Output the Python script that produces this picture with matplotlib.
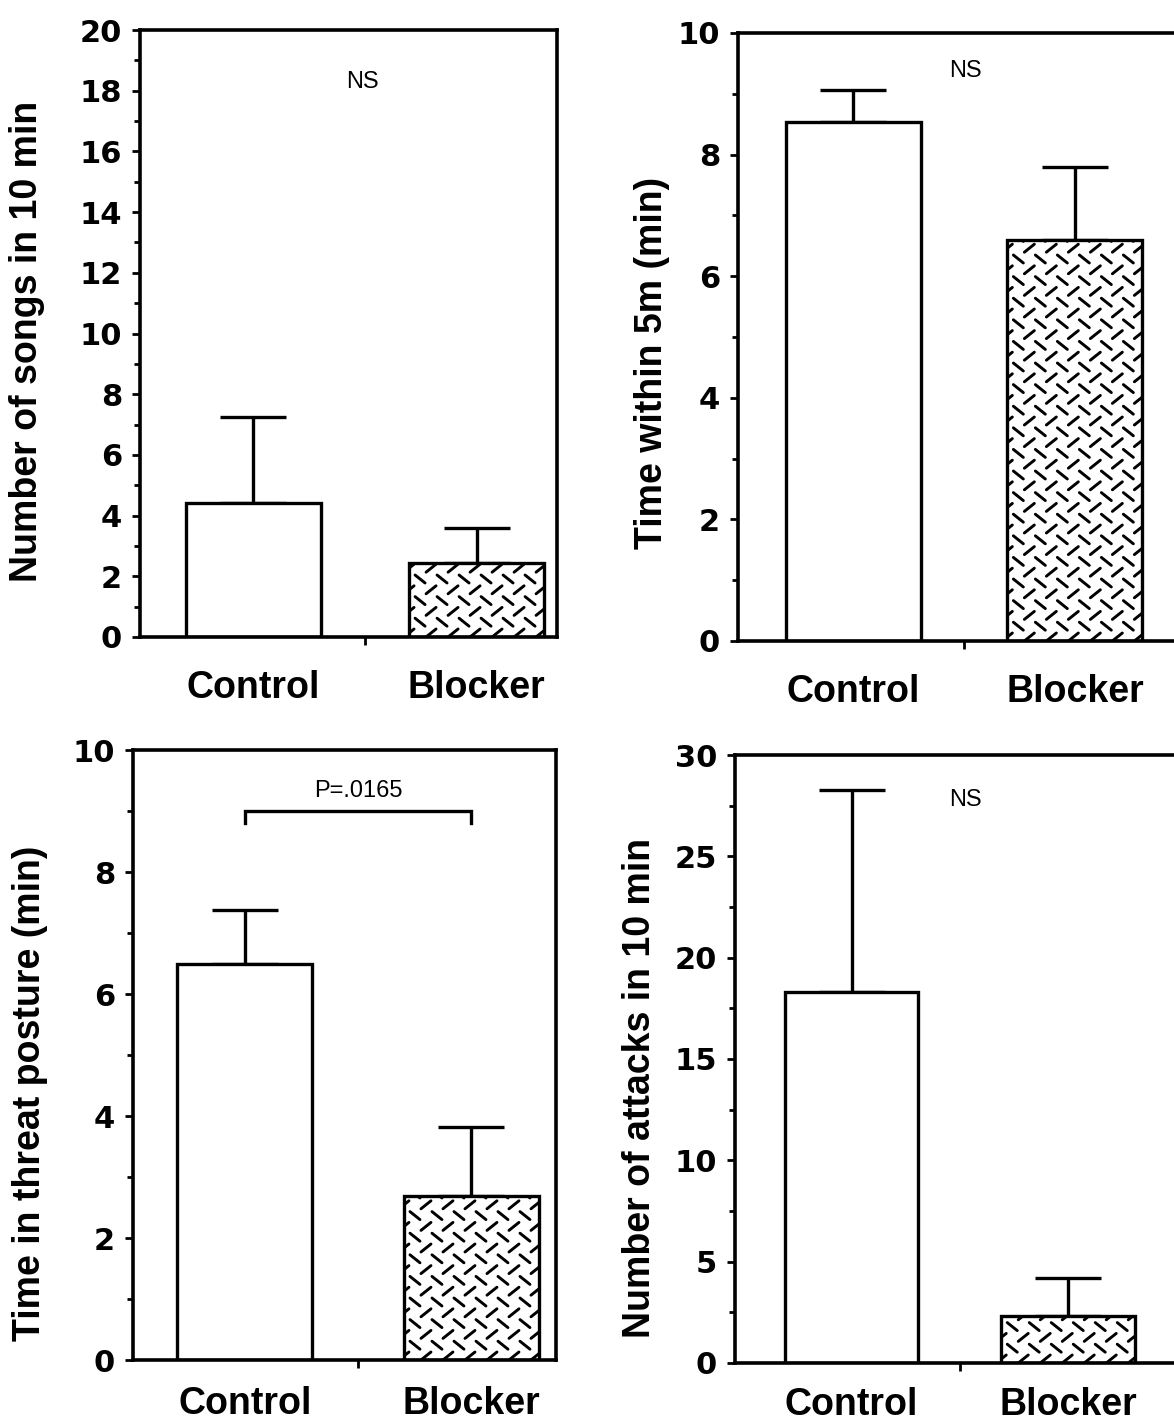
import matplotlib
matplotlib.use("Agg")
import matplotlib.pyplot as plt
from matplotlib.collections import LineCollection
from matplotlib.transforms import IdentityTransform
from matplotlib.ticker import MultipleLocator

# ---- data -------------------------------------------------------------
groups = ["Control", "Blocker"]

songs_mean = [4.4, 2.45]
songs_err = [2.85, 1.15]

near_mean = [8.54, 6.6]
near_err = [0.52, 1.2]

threat_mean = [6.49, 2.69]
threat_err = [0.89, 1.13]

attack_mean = [18.3, 2.32]
attack_err = [9.97, 1.87]

# ---- figure -----------------------------------------------------------
W, H = 1174, 1428
fig = plt.figure(figsize=(W / 100, H / 100), dpi=100)
plt.rcParams["font.family"] = ["DejaVu Sans"]

LABEL_FONT = "Liberation Sans"
LW = 2.4


def px_axes(left, right, top, bottom):
    return fig.add_axes([left / W, 1 - bottom / H, (right - left) / W, (bottom - top) / H])


def diamond_plate(ax, bar, dx=22.0, dy=10.8, hx=5.0, hy=4.0):
    """Alternating rows of short '\\' and '/' dashes, clipped to the bar."""
    bb = bar.get_window_extent()
    segs = []
    row = 0
    y = bb.y0 + 4
    while y < bb.y1 + dy:
        shift = 0.0 if row % 2 == 0 else dx / 2
        x = bb.x0 - dx + shift
        while x < bb.x1 + dx:
            if row % 2 == 0:
                segs.append([(x - hx, y - hy), (x + hx, y + hy)])
            else:
                segs.append([(x - hx, y + hy), (x + hx, y - hy)])
            x += dx
        y += dy
        row += 1
    lc = LineCollection(segs, colors="black", linewidths=2.1,
                        transform=IdentityTransform(), capstyle="round", zorder=2.5)
    ax.add_collection(lc, autolim=False)
    # clip after adding, so the axes does not replace it with its own box
    lc.set_clip_path(bar)


def panel(box, xlim, width, means, errs, ymax, major, minor, ylabel, ylabel_xy,
          label_pad=24):
    ax = px_axes(*box)
    ax.set_xlim(*xlim)
    ax.set_ylim(0, ymax)
    bars = ax.bar([0, 1], means, width=width, color="white",
                  edgecolor="black", linewidth=LW, zorder=2)
    ax.errorbar([0, 1], means, yerr=[[0, 0], errs], fmt="none", ecolor="black",
                elinewidth=LW, capsize=24, capthick=LW, zorder=1)
    for s in ax.spines.values():
        s.set_linewidth(2.6)
    ax.yaxis.set_major_locator(MultipleLocator(major))
    ax.yaxis.set_minor_locator(MultipleLocator(minor))
    ax.tick_params(axis="y", which="major", direction="out", length=6, width=2,
                   labelsize=22, pad=7)
    ax.tick_params(axis="y", which="minor", direction="out", length=4, width=2)
    for t in ax.get_yticklabels():
        t.set_fontweight("bold")
    ax.set_xticks([0, 1])
    ax.set_xticklabels(groups, fontsize=27, fontweight="bold", family=LABEL_FONT)
    ax.set_xticks([0.5], minor=True)
    ax.tick_params(axis="x", which="major", length=0, pad=label_pad)
    ax.tick_params(axis="x", which="minor", direction="out", length=6, width=2)
    fig.text(ylabel_xy[0] / W, 1 - ylabel_xy[1] / H, ylabel, rotation=90,
             ha="center", va="center", fontsize=27, fontweight="bold",
             family=LABEL_FONT)
    diamond_plate(ax, bars[1])
    return ax


# Songs
ax1 = panel((140, 557, 30, 637), (-0.506, 1.360), 0.604, songs_mean, songs_err,
            20, 2, 1, "Number of songs in 10 min", (27, 341))
ax1.text(0.488, 18.09, "NS", ha="center", va="baseline", fontsize=17,
         family=LABEL_FONT)

# Time near
ax2 = panel((738, 1185, 33, 641), (-0.521, 1.497), 0.61, near_mean, near_err,
            10, 2, 1, "Time within 5m (min)", (652, 363))
ax2.text(0.508, 9.28, "NS", ha="center", va="baseline", fontsize=17,
         family=LABEL_FONT)

# Threat posture
ax3 = panel((133, 556, 750, 1360), (-0.494, 1.373), 0.596, threat_mean, threat_err,
            10, 2, 1, "Time in threat posture (min)", (30, 1093), label_pad=19)
ax3.plot([0, 0, 1, 1], [8.8, 9.0, 9.0, 8.8], color="black", linewidth=LW,
         solid_joinstyle="miter", zorder=3)
ax3.text(0.5, 9.23, "P=.0165", ha="center", va="baseline", fontsize=17,
         family=LABEL_FONT)

# Attacks
ax4 = panel((735, 1185, 755, 1363), (-0.538, 1.540), 0.617, attack_mean, attack_err,
            30, 5, 2.5, "Number of attacks in 10 min", (640, 1088), label_pad=17)
ax4.text(0.524, 27.5, "NS", ha="center", va="baseline", fontsize=17,
         family=LABEL_FONT)

fig.savefig("out.png", dpi=100)
